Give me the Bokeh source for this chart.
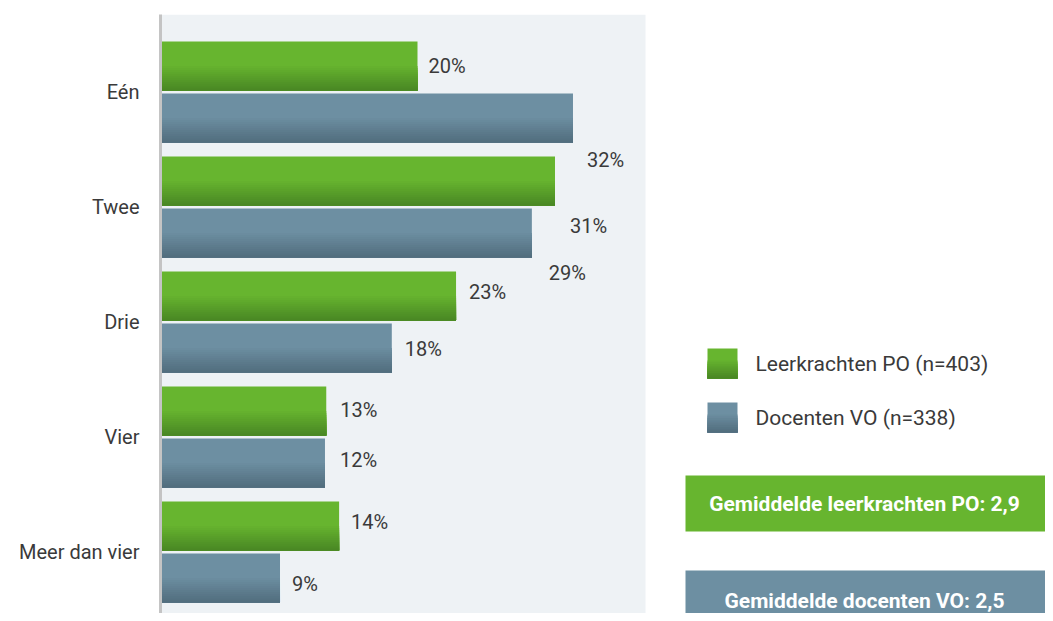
from bokeh.plotting import figure
from bokeh.models import Range1d, FixedTicker
from bokeh.core.properties import value
from bokeh.embed import file_html
from bokeh.resources import INLINE

# ---- data ----
categories = ["Eén", "Twee", "Drie", "Vier", "Meer dan vier"]
po_values = [20, 30.7, 23, 12.9, 13.9]
vo_values = [32.1, 28.9, 18, 12.8, 9.3]
po_labels = ["20%", "31%", "23%", "13%", "14%"]
vo_labels = ["32%", "29%", "18%", "12%", "9%"]
series_names = ["Leerkrachten PO (n=403)", "Docenten VO (n=338)"]
avg_texts = ["Gemiddelde leerkrachten PO: 2,9", "Gemiddelde docenten VO: 2,5"]

# ---- style ----
GREEN_TOP, GREEN_BOT = (103, 181, 47), (74, 136, 36)
BLUE_TOP, BLUE_BOT = (109, 143, 162), (82, 110, 126)
PANEL = "#eef2f5"
TEXT = "#3a3a3a"
FONT = value("Roboto")
PX_PER_UNIT = 12.85      # px per percent
ROW = 115.0              # px per category
FRAME_LEFT, FRAME_TOP = 160, 14
W, H = 1045, 613

x_end = (W - FRAME_LEFT) / PX_PER_UNIT
y_top = (FRAME_TOP - 91.5) / ROW
y_bot = (H - 91.5) / ROW

def px_x(px):
    return (px - FRAME_LEFT) / PX_PER_UNIT

def px_y(py):
    return (py - 91.5) / ROW

p = figure(width=W, height=H, output_backend="svg", toolbar_location=None,
           x_range=Range1d(0, x_end), y_range=Range1d(y_bot, y_top),
           min_border_left=FRAME_LEFT, min_border_top=FRAME_TOP,
           min_border_right=0, min_border_bottom=0)
p.outline_line_color = None
p.xgrid.visible = False
p.ygrid.visible = False
p.xaxis.visible = False
p.background_fill_color = "white"
p.border_fill_color = "white"

# panel background
p.quad(left=0, right=px_x(645), bottom=y_bot, top=y_top,
       fill_color=PANEL, line_color=None)

def mix(c1, c2, t):
    return "#%02x%02x%02x" % tuple(int(round(a + (b - a) * t)) for a, b in zip(c1, c2))

BAR_H = 49 / ROW
N_STRIPS = 12
SOLID = 0.5   # fraction of bar height that is solid at top

def gradient_hbar(ys, rights, ctop, cbot):
    # full bar in top colour, then overlapping strips that each reach the bar bottom
    p.hbar(y=ys, height=BAR_H, left=0, right=rights,
           fill_color=mix(ctop, ctop, 0), line_color=None)
    bottoms = [y + BAR_H / 2 for y in ys]
    for i in range(N_STRIPS):
        frac = SOLID + (1 - SOLID) * i / N_STRIPS
        tops = [y - BAR_H / 2 + BAR_H * frac for y in ys]
        t = (i + 1) / N_STRIPS
        p.hbar(y=[(a + b) / 2 for a, b in zip(tops, bottoms)],
               height=BAR_H * (1 - frac), left=0, right=rights,
               fill_color=mix(ctop, cbot, t), line_color=None)

idx = list(range(len(categories)))
po_y = [i - 0.226 for i in idx]
vo_y = [i + 0.226 for i in idx]
gradient_hbar(po_y, po_values, GREEN_TOP, GREEN_BOT)
gradient_hbar(vo_y, vo_values, BLUE_TOP, BLUE_BOT)

# value labels (offsets in px replicate the reference placement)
po_dx = [11, 15, 13, 14, 12]
po_dy = [0, 45, -4, -1, -4]
vo_dx = [14, 17, 13, 15, 12]
vo_dy = [42, 40, 1, -3, 6]
LBL = "20px"
p.text(x=po_values, y=po_y, text=po_labels, x_offset=po_dx, y_offset=po_dy,
       text_font=FONT, text_font_size=LBL, text_color=TEXT,
       text_baseline="middle", text_align="left")
p.text(x=vo_values, y=vo_y, text=vo_labels, x_offset=vo_dx, y_offset=vo_dy,
       text_font=FONT, text_font_size=LBL, text_color=TEXT,
       text_baseline="middle", text_align="left")

# category axis
p.yaxis.ticker = FixedTicker(ticks=idx)
p.yaxis.major_label_overrides = {i: c for i, c in enumerate(categories)}
p.yaxis.major_tick_line_color = None
p.yaxis.minor_tick_line_color = None
p.yaxis.axis_line_color = "#c4c4c4"
p.yaxis.axis_line_width = 3
p.yaxis.major_label_standoff = 15
p.yaxis.major_label_text_font = "Roboto"
p.yaxis.major_label_text_font_size = "20px"
p.yaxis.major_label_text_color = TEXT

# legend (drawn manually)
SQ = 30
for k, (ct, cb) in enumerate([(GREEN_TOP, GREEN_BOT), (BLUE_TOP, BLUE_BOT)]):
    top_px = 348 + k * 54
    p.quad(left=px_x(707), right=px_x(707 + SQ), top=px_y(top_px), bottom=px_y(top_px + SQ),
           fill_color=mix(ct, ct, 0), line_color=None)
    nst = 10
    for i in range(nst):
        frac = 0.4 + 0.6 * i / nst
        p.quad(left=px_x(707), right=px_x(707 + SQ),
               top=px_y(top_px + SQ * frac), bottom=px_y(top_px + SQ),
               fill_color=mix(ct, cb, (i + 1) / nst), line_color=None)
    p.text(x=[px_x(755)], y=[px_y(top_px + SQ / 2)], text=[series_names[k]],
           text_font=FONT, text_font_size="21px", text_color=TEXT,
           text_baseline="middle", text_align="left")

# average boxes
for k, (col, t_px, b_px) in enumerate([("#67b52f", 475, 531), ("#6d8fa2", 570, 640)]):
    p.quad(left=px_x(685), right=x_end + 1, top=px_y(t_px), bottom=px_y(b_px),
           fill_color=col, line_color=None)
    p.text(x=[px_x(864)], y=[px_y(503 if k == 0 else 600)], text=[avg_texts[k]],
           text_font=FONT, text_font_size="21px", text_font_style="bold",
           text_color="white", text_baseline="middle", text_align="center")

open("out.html", "w").write(file_html(p, INLINE))
